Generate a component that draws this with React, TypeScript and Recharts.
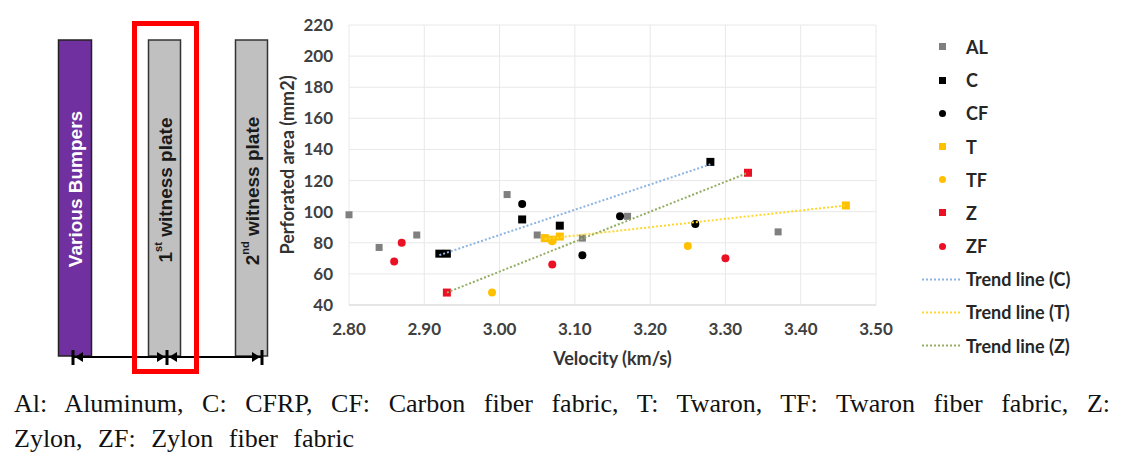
import { ScatterChart, Scatter, XAxis, YAxis, CartesianGrid, Legend } from 'recharts'

// [velocity km/s, perforated area mm2]
const alData = [
  { x: 2.80, y: 98 }, { x: 2.84, y: 77 }, { x: 2.89, y: 85 }, { x: 3.01, y: 111 },
  { x: 3.05, y: 85 }, { x: 3.11, y: 83 }, { x: 3.17, y: 97 }, { x: 3.37, y: 87 },
]
const cData = [
  { x: 2.92, y: 73 }, { x: 2.93, y: 73 }, { x: 3.03, y: 95 }, { x: 3.08, y: 91 }, { x: 3.28, y: 132 },
]
const cfData = [
  { x: 3.03, y: 105 }, { x: 3.11, y: 72 }, { x: 3.16, y: 97 }, { x: 3.26, y: 92 },
]
const tData = [
  { x: 3.06, y: 83 }, { x: 3.07, y: 82 }, { x: 3.08, y: 84 }, { x: 3.46, y: 104 },
]
const tfData = [
  { x: 2.99, y: 48 }, { x: 3.07, y: 81 }, { x: 3.25, y: 78 },
]
const zData = [
  { x: 2.93, y: 48 }, { x: 3.33, y: 125 },
]
const zfData = [
  { x: 2.86, y: 68 }, { x: 2.87, y: 80 }, { x: 3.07, y: 66 }, { x: 3.30, y: 70 },
]

const xTicks = [2.8, 2.9, 3.0, 3.1, 3.2, 3.3, 3.4, 3.5]
const yTicks = [40, 60, 80, 100, 120, 140, 160, 180, 200, 220]
const legendOrder = ['AL', 'C', 'CF', 'T', 'TF', 'Z', 'ZF', 'Trend line (C)', 'Trend line (T)', 'Trend line (Z)']

const FONT = 'Lato, "Open Sans", sans-serif'
const GRAY = '#7f7f7f'
const BLACK = '#000000'
const GOLD = '#ffc000'
const RED = '#ec1024'
const TREND_C = '#8db4e2'
const TREND_T = '#ffd82e'
const TREND_Z = '#93ad62'

const square = (color: string, s: number) => (p: any) => (
  <rect x={p.cx - s / 2} y={p.cy - s / 2} width={s} height={s} fill={color} />
)
const dot = (color: string, r: number) => (p: any) => (
  <circle cx={p.cx} cy={p.cy} r={r} fill={color} />
)
const noShape = () => <g />

const renderLegend = (props: any) => {
  const items = props.payload || []
  return (
    <div style={{ fontFamily: FONT, fontWeight: 700, fontSize: 18, color: '#262626' }}>
      {items.map((entry: any) => (
        <div key={entry.value} style={{ height: 33.2, display: 'flex', alignItems: 'center' }}>
          <svg width={46} height={33} style={{ display: 'block' }}>
            {entry.type === 'square' && <rect x={19} y={13} width={7} height={7} fill={entry.color} />}
            {entry.type === 'circle' && <circle cx={22.5} cy={16.5} r={3.5} fill={entry.color} />}
            {entry.type === 'line' && (
              <line x1={2} x2={42} y1={16.5} y2={16.5} stroke={entry.color} strokeWidth={2} strokeDasharray="2 2" />
            )}
          </svg>
          <span>{entry.value}</span>
        </div>
      ))}
    </div>
  )
}

function Diagram() {
  const txt = { fontFamily: '"Liberation Sans", Arial, sans-serif', fontWeight: 700, fontSize: 19 }
  return (
    <svg width={280} height={380} style={{ position: 'absolute', left: 0, top: 0 }}>
      <rect x={58.5} y={40} width={33} height={316} fill="#7030a0" stroke="#222" strokeWidth={1.5} />
      <rect x={148.5} y={40} width={32} height={316} fill="#c0c0c0" stroke="#333" strokeWidth={1.5} />
      <rect x={235.5} y={40} width={32} height={316} fill="#c0c0c0" stroke="#333" strokeWidth={1.5} />
      <text x={75} y={189} transform="rotate(-90 75 189)" textAnchor="middle" dominantBaseline="central" fill="#fff" style={txt}>
        Various Bumpers
      </text>
      <text x={165} y={190} transform="rotate(-90 165 190)" textAnchor="middle" dominantBaseline="central" fill="#1a1a1a" style={txt}>
        1<tspan fontSize={11} dy={-7}>st</tspan><tspan dy={7}>{'  witness plate'}</tspan>
      </text>
      <text x={252} y={191} transform="rotate(-90 252 191)" textAnchor="middle" dominantBaseline="central" fill="#1a1a1a" style={txt}>
        2<tspan fontSize={11} dy={-7}>nd</tspan><tspan dy={7}>{' witness plate'}</tspan>
      </text>
      <line x1={73} x2={262} y1={357} y2={357} stroke="#000" strokeWidth={2} />
      <line x1={73} x2={73} y1={350} y2={365} stroke="#000" strokeWidth={3} />
      <line x1={167} x2={167} y1={350} y2={365} stroke="#000" strokeWidth={3} />
      <line x1={262} x2={262} y1={350} y2={365} stroke="#000" strokeWidth={3} />
      <polygon points="75,357 83,352 83,362" fill="#000" />
      <polygon points="165,357 157,352 157,362" fill="#000" />
      <polygon points="169,357 177,352 177,362" fill="#000" />
      <polygon points="260,357 252,352 252,362" fill="#000" />
      <rect x={134.5} y={23.5} width={62} height={348} fill="none" stroke="#ff0000" strokeWidth={5} />
    </svg>
  )
}

export default function App() {
  const tick = { fontFamily: FONT, fontWeight: 700, fontSize: 17, fill: '#404040' }
  const axisTitle = { fontFamily: FONT, fontWeight: 700, fontSize: 18, fill: '#333333' }
  return (
    <div style={{ position: 'absolute', left: 0, top: 0, width: 1124, height: 463, background: '#fff', overflow: 'hidden' }}>
      <Diagram />
      <div style={{ position: 'absolute', left: 227, top: 0 }}>
        <ScatterChart width={897} height={380} margin={{ top: 25, right: 248, bottom: 15, left: 0 }}>
          <CartesianGrid stroke="#e8e8e8" />
          <XAxis
            type="number"
            dataKey="x"
            domain={[2.8, 3.5]}
            ticks={xTicks}
            tickFormatter={(v: number) => v.toFixed(2)}
            tick={tick}
            tickLine={false}
            tickSize={0}
            tickMargin={18}
            axisLine={{ stroke: '#d9d9d9' }}
            height={60}
            label={{ value: 'Velocity (km/s)', position: 'insideBottom', offset: 0, style: axisTitle }}
          />
          <YAxis
            type="number"
            dataKey="y"
            domain={[40, 220]}
            ticks={yTicks}
            tick={tick}
            tickLine={false}
            tickSize={0}
            tickMargin={16}
            axisLine={false}
            width={122}
            label={{ value: 'Perforated area (mm2)', angle: -90, position: 'center', style: axisTitle }}
          />
          <Legend
            layout="vertical"
            align="center"
            verticalAlign="middle"
            wrapperStyle={{ left: 693, top: 30.4, width: 200 }}
            itemSorter={(item: any) => legendOrder.indexOf(item.value)}
            content={renderLegend}
          />
          <Scatter name="AL" data={alData} fill={GRAY} legendType="square" shape={square(GRAY, 7)} isAnimationActive={false} />
          <Scatter name="C" data={cData} fill={BLACK} legendType="square" shape={square(BLACK, 8)} isAnimationActive={false} />
          <Scatter name="CF" data={cfData} fill={BLACK} legendType="circle" shape={dot(BLACK, 4)} isAnimationActive={false} />
          <Scatter name="T" data={tData} fill={GOLD} legendType="square" shape={square(GOLD, 8)} isAnimationActive={false} />
          <Scatter name="TF" data={tfData} fill={GOLD} legendType="circle" shape={dot(GOLD, 4)} isAnimationActive={false} />
          <Scatter name="Z" data={zData} fill={RED} legendType="square" shape={square(RED, 8)} isAnimationActive={false} />
          <Scatter name="ZF" data={zfData} fill={RED} legendType="circle" shape={dot(RED, 4)} isAnimationActive={false} />
          <Scatter
            name="Trend line (C)"
            data={cData}
            fill={TREND_C}
            legendType="line"
            line={{ stroke: TREND_C, strokeWidth: 2, strokeDasharray: '2 2' }}
            lineType="fitting"
            shape={noShape}
            isAnimationActive={false}
          />
          <Scatter
            name="Trend line (T)"
            data={tData}
            fill={TREND_T}
            legendType="line"
            line={{ stroke: TREND_T, strokeWidth: 2, strokeDasharray: '2 2' }}
            lineType="fitting"
            shape={noShape}
            isAnimationActive={false}
          />
          <Scatter
            name="Trend line (Z)"
            data={zData}
            fill={TREND_Z}
            legendType="line"
            line={{ stroke: TREND_Z, strokeWidth: 2, strokeDasharray: '2 2' }}
            lineType="fitting"
            shape={noShape}
            isAnimationActive={false}
          />
        </ScatterChart>
      </div>
      <div
        style={{
          position: 'absolute',
          left: 14,
          top: 386,
          width: 1096,
          fontFamily: '"Liberation Serif", "Times New Roman", serif',
          fontSize: 26,
          lineHeight: '35px',
          color: '#111',
        }}
      >
        <div style={{ textAlign: 'justify', textAlignLast: 'justify', whiteSpace: 'normal' }}>
          Al: Aluminum, C: CFRP, CF: Carbon fiber fabric, T: Twaron, TF: Twaron fiber fabric, Z:
        </div>
        <div style={{ wordSpacing: 9 }}>Zylon, ZF: Zylon fiber fabric</div>
      </div>
    </div>
  )
}
